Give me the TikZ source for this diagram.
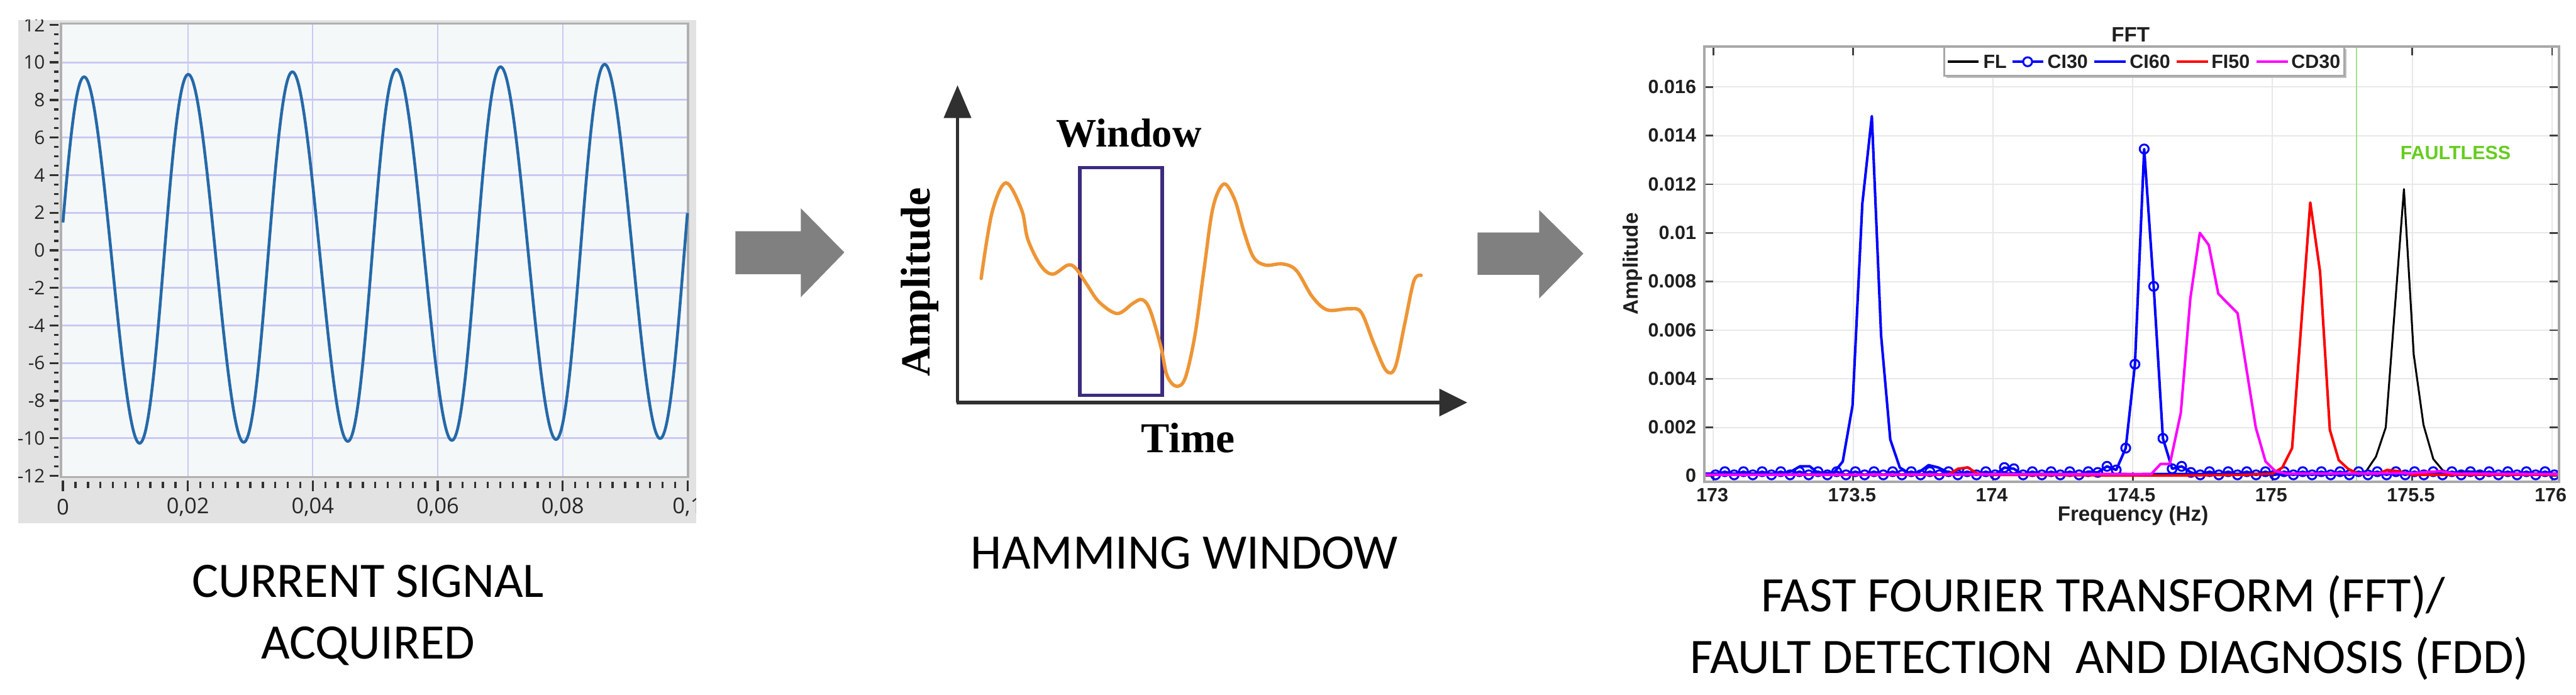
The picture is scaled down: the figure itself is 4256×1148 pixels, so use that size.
\documentclass[tikz,border=0pt]{standalone}
\usepackage{fontspec}
\newfontfamily\capfont{Carlito}
\newfontfamily\lvfont{Open Sans}
\newfontfamily\mlfont{Liberation Sans}
\newfontfamily\tmfont{Liberation Serif}
\usetikzlibrary{plotmarks}
\definecolor{bggrey}{HTML}{E2E2E2}
\definecolor{plotbg}{HTML}{F5F8F9}
\definecolor{lvgrid}{HTML}{C9C9F2}
\definecolor{lvframe}{HTML}{B0B0B0}
\definecolor{lvcurve}{HTML}{2569A8}
\definecolor{arrowgrey}{HTML}{808080}
\definecolor{axdark}{HTML}{303030}
\definecolor{winpurple}{HTML}{3D2B7E}
\definecolor{orangec}{HTML}{EE9535}
\definecolor{mlgrid}{HTML}{E8E8E8}
\definecolor{mlframe}{HTML}{A8A8A8}
\definecolor{mltickc}{HTML}{404040}
\definecolor{faultgreen}{HTML}{66CC1F}
\definecolor{vgreen}{HTML}{A8E08A}
\definecolor{mlblue}{HTML}{0000FF}
\definecolor{mlred}{HTML}{FF0000}
\definecolor{mlmag}{HTML}{FF00FF}
\tikzset{
  capstyle/.style={inner sep=0pt, font=\capfont\fontsize{23.3}{28}\selectfont},
  lvlabel/.style={inner sep=0pt, font=\lvfont\fontsize{8.8}{10}\selectfont, text=black!85},
  lvxlabel/.style={inner sep=0pt, font=\lvfont\fontsize{10.2}{12}\selectfont, text=black!85},
  serifbold/.style={inner sep=0pt, font=\tmfont\bfseries\fontsize{19.5}{23}\selectfont},
  mltick/.style={inner sep=0pt, font=\mlfont\bfseries\fontsize{9}{10}\selectfont, text=black!88},
  mllabel/.style={inner sep=0pt, font=\mlfont\bfseries\fontsize{9.8}{11}\selectfont, text=black!88},
  blockarrow/.style={fill=arrowgrey},
  lvtick/.style={draw=axdark, line width=1pt},
  mlcurve/.style={line width=1.2pt, line join=round},
  ci30/.style={mlcurve, draw=mlblue, mark=o, mark size=2.1pt, mark options={line width=0.9pt, draw=mlblue}},
}
\begin{document}
\begin{tikzpicture}[x=0.01cm,y=-0.01cm]
\useasboundingbox (0,0) rectangle (4256,1148);
\fill[white] (0,0) rectangle (4256,1148);

% ================= Panel 1 : current signal =================
\begin{scope}
\clip (30,33) rectangle (1150,865);
\fill[bggrey] (30,33) rectangle (1150,865);
\fill[plotbg] (101,39) rectangle (1137,788);
\foreach \k in {1,...,4}
  \draw[lvgrid, line width=0.6pt] ({104+206.4*\k},39) -- ({104+206.4*\k},788);
\foreach \v in {-10,-8,...,10}
  \draw[lvgrid, line width=0.9pt] (101,{413.5-31.05*\v}) -- (1137,{413.5-31.05*\v});
\draw[lvframe, line width=1.1pt] (101,39) rectangle (1137,788);
% y ticks
\foreach \i in {0,...,48}
  \draw[lvtick] (89,{413.5-31.05*(-12+0.5*\i)}) -- (97,{413.5-31.05*(-12+0.5*\i)});
\foreach \i in {0,...,12}{
  \pgfmathsetmacro\yy{413.5-31.05*(-12+2*\i)}
  \pgfmathtruncatemacro\vv{-12+2*\i}
  \draw[lvtick] (82,\yy) -- (97,\yy);
  \node[lvlabel, anchor=east] (ylab\i) at (75,\yy) {\vv};
}
% x ticks
\foreach \i in {0,...,50}
  \draw[lvtick] ({104+20.64*\i},796) -- ({104+20.64*\i},806);
\foreach \k/\t in {0/0,1/{0,02},2/{0,04},3/{0,06},4/{0,08},5/{0,1}}{
  \draw[lvtick] ({104+206.4*\k},794) -- ({104+206.4*\k},812);
  \node[lvxlabel] (xlab\k) at ({104+206.4*\k},838) {\t};
}
% signal (s = 100 t)
\draw[lvcurve, line width=1.35pt, line join=round]
  plot[domain=0:10, samples=900, variable=\s]
  ({104+103.2*\s},{413.5-31.05*((-0.55+0.055*\s)+(9.75+0.025*\s)*sin(216*\s+10.9+5.96*sin(216*\s+10.9)))});
\end{scope}

% ================= block arrows =================
\fill[blockarrow] (1215,382) -- (1323,382) -- (1323,344) -- (1395,417) -- (1323,491) -- (1323,453) -- (1215,453) -- cycle;
\fill[blockarrow] (2441,384) -- (2543,384) -- (2543,347) -- (2616,419) -- (2543,493) -- (2543,454) -- (2441,454) -- cycle;

% ================= Panel 2 : Hamming window =================
\draw[winpurple, line width=1.7pt] (1784,277) rectangle (1920,653);
\draw[orangec, line width=1.6pt, line cap=round, line join=round]
  plot[smooth, tension=0.55] coordinates {
  (1621,460) (1639,351) (1662,302) (1688,347) (1698,395) (1719,438) (1739,453)
  (1764,438) (1777,443) (1795,469) (1816,499) (1846,518) (1872,501) (1887,495)
  (1900,512) (1918,573) (1928,620) (1943,638) (1958,625) (1974,555) (1989,447)
  (2004,343) (2022,304) (2040,330) (2055,382) (2071,425) (2091,438) (2119,436)
  (2142,447) (2168,490) (2193,512) (2229,510) (2249,516) (2270,568) (2290,612)
  (2305,607) (2321,534) (2336,464) (2348,455)};
\draw[axdark, line width=1.7pt] (1582,665) -- (1582,190);
\fill[axdark] (1582,141) -- (1605,195) -- (1559,195) -- cycle;
\draw[axdark, line width=1.7pt] (1580,665) -- (2382,665);
\fill[axdark] (2424,665) -- (2378,642) -- (2378,688) -- cycle;
\node[serifbold, anchor=base, font=\tmfont\bfseries\fontsize{19}{23}\selectfont] (wlab) at (1865,243) {Window};
\node[serifbold, anchor=base, font=\tmfont\bfseries\fontsize{20}{23}\selectfont] (tlab) at (1963,748) {Time};
\node[serifbold, anchor=base, rotate=90] (alab) at (1536,466) {Amplitude};

% ================= Panel 3 : FFT =================
\begin{scope}[xshift=28.29cm, yshift=-7.86cm, x=4.617cm, y=0.4015cm]
  \fill[white] (-0.0325,-0.224) rectangle (3.0236,17.66);
  \foreach \f in {0,0.5,...,3.0}
    \draw[mlgrid, line width=0.6pt] (\f,-0.224) -- (\f,17.66);
  \foreach \a in {2,4,...,16}
    \draw[mlgrid, line width=0.6pt] (-0.0325,\a) -- (3.0236,\a);
  \foreach \f in {0,0.5,...,3.0}{
    \draw[mltickc, line width=0.8pt] (\f,-0.224) -- (\f,0.15);
    \draw[mltickc, line width=0.8pt] (\f,17.66) -- (\f,17.29);
  }
  \foreach \a in {0,2,...,16}{
    \draw[mltickc, line width=0.8pt] (-0.0325,\a) -- (0,\a);
    \draw[mltickc, line width=0.8pt] (3.0236,\a) -- (2.991,\a);
  }
  \begin{scope}
  \clip (-0.0325,-0.5) rectangle (3.0236,17.66);
  \draw[vgreen, line width=0.6pt] (2.3,-0.224) -- (2.3,17.66);
  % FL
  \draw[mlcurve, black, line width=0.9pt] plot coordinates {
    (-0.05,0.05) (2.28,0.05) (2.30,0.08) (2.335,0.2) (2.37,0.8) (2.405,2.0) (2.47,11.8)
    (2.505,5.0) (2.54,2.1) (2.575,0.7) (2.61,0.22) (2.645,0.12) (2.7,0.2) (2.76,0.15)
    (2.8,0.07) (3.05,0.05)};
  % CI30
  \draw[ci30]
    plot[domain=0:30, samples=31, variable=\k] ({0.008+\k/30},{0.05+0.13*mod(round(\k),2)})
    -- plot coordinates {(1.041,0.35) (1.075,0.30) (1.108,0.05) (1.141,0.18) (1.175,0.05)
      (1.208,0.18) (1.241,0.05) (1.275,0.18) (1.308,0.05) (1.341,0.18) (1.375,0.15)
      (1.408,0.40) (1.441,0.25) (1.475,1.15) (1.508,4.6) (1.541,13.45) (1.575,7.8)
      (1.608,1.55) (1.641,0.3) (1.675,0.4) (1.708,0.15)}
    -- plot[domain=52:90, samples=39, variable=\k] ({0.008+\k/30},{0.05+0.13*mod(round(\k),2)});
  % CI60
  \draw[mlcurve, mlblue] plot coordinates {
    (-0.05,0.1) (0.25,0.1) (0.28,0.2) (0.31,0.4) (0.345,0.4) (0.375,0.12) (0.43,0.12)
    (0.463,0.6) (0.498,2.9) (0.533,11.2) (0.567,14.8) (0.60,5.8) (0.633,1.5) (0.667,0.35)
    (0.70,0.12) (0.735,0.15) (0.77,0.45) (0.805,0.35) (0.84,0.15) (0.9,0.1) (1.5,0.08)
    (2.5,0.1) (3.05,0.1)};
  % FI50
  \draw[mlcurve, mlred] plot coordinates {
    (-0.05,0.05) (0.84,0.05) (0.875,0.3) (0.91,0.35) (0.945,0.1) (1.0,0.05) (1.6,0.02)
    (1.9,0.05) (2.0,0.1) (2.035,0.35) (2.07,1.15) (2.135,11.25) (2.17,8.4) (2.205,1.9)
    (2.237,0.65) (2.27,0.3) (2.305,0.1) (2.38,0.1) (2.41,0.25) (2.45,0.2) (2.5,0.05)
    (3.05,0.05)};
  % CD30
  \draw[mlcurve, mlmag] plot coordinates {
    (-0.05,0.05) (1.566,0.08) (1.6,0.5) (1.633,0.5) (1.672,2.6) (1.706,7.3) (1.74,10.0)
    (1.772,9.5) (1.806,7.5) (1.84,7.1) (1.875,6.7) (1.94,2.0) (1.975,0.6) (2.01,0.2)
    (2.05,0.1) (2.5,0.12) (2.6,0.2) (2.65,0.1) (3.05,0.08)};
  \end{scope}
  \draw[mlframe, line width=1.2pt] (-0.0325,-0.224) rectangle (3.0236,17.66);
\end{scope}
% FFT tick labels
\foreach \k/\t in {0/0,1/0.002,2/0.004,3/0.006,4/0.008,5/0.01,6/0.012,7/0.014,8/0.016}
  \node[mltick, anchor=east] (fyl\k) at (2803,{786-80.3*\k}) {\t};
\foreach \k/\t in {0/173,1/173.5,2/174,3/174.5,4/175,5/175.5,6/176}
  \node[mltick] (fxl\k) at ({2829+230.85*\k},818) {\t};
\node[mllabel] (fxlab) at (3524,852) {Frequency (Hz)};
\node[mllabel, rotate=90] (fylab) at (2697,436) {Amplitude};
\node[mllabel] (ftitle) at (3520,57) {FFT};
\node[mltick, text=faultgreen, font=\mlfont\bfseries\fontsize{9}{10}\selectfont] (faultless) at (4057,253) {FAULTLESS};
% legend
\fill[black!25] (3216,81) rectangle (3877,129);
\draw[mlframe, fill=white, line width=1pt] (3212,77) rectangle (3873,125);
\draw[black, line width=1pt] (3218,102) -- (3269,102);
\node[mltick, anchor=base west] (lgfl) at (3276,113) {FL};
\draw[mlblue, line width=1.2pt] (3325,102) -- (3376,102);
\draw[mlblue, line width=0.9pt, fill=white] (3350,102) circle[radius=2.1pt];
\node[mltick, anchor=base west] (lgci30) at (3382,113) {CI30};
\draw[mlblue, line width=1.2pt] (3460,102) -- (3512,102);
\node[mltick, anchor=base west] (lgci60) at (3518,113) {CI60};
\draw[mlred, line width=1.2pt] (3596,102) -- (3648,102);
\node[mltick, anchor=base west] (lgfi50) at (3653,113) {FI50};
\draw[mlmag, line width=1.2pt] (3728,102) -- (3780,102);
\node[mltick, anchor=base west] (lgcd30) at (3785,113) {CD30};

% ================= captions =================
\node[capstyle, anchor=base] (cap1a) at (608,987) {CURRENT SIGNAL};
\node[capstyle, anchor=base] (cap1b) at (608,1088) {ACQUIRED};
\node[capstyle, anchor=base] (cap2) at (1957,940) {HAMMING WINDOW};
\node[capstyle, anchor=base] (cap3a) at (3475,1010) {FAST FOURIER TRANSFORM (FFT)/};
\node[capstyle, anchor=base] (cap3b) at (3485,1112) {FAULT DETECTION \ AND DIAGNOSIS (FDD)};
\end{tikzpicture}
\end{document}
